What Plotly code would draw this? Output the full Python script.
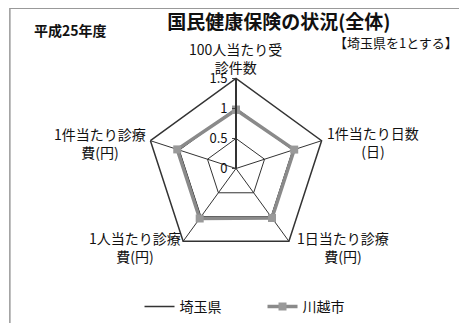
import plotly.graph_objects as go

categories = ["100人当たり受<br>診件数", "1件当たり日数<br>(日)", "1日当たり診療<br>費(円)",
              "1人当たり診療<br>費(円)", "1件当たり診療<br>費(円)"]
saitama = [1, 1, 1, 1, 1]
kawagoe = [0.98, 1.02, 1.02, 1.03, 1.03]

font = "Noto Sans CJK JP"

# label positions around the pentagon (paper coords), same order as categories
label_pos = [(0.488, 0.845), (0.782, 0.585), (0.717, 0.26), (0.272, 0.26), (0.197, 0.582)]

fig = go.Figure()
fig.add_trace(go.Scatterpolar(
    r=saitama + saitama[:1], theta=categories + categories[:1],
    name="埼玉県", mode="lines",
    line=dict(color="#333333", width=1.5)
))
fig.add_trace(go.Scatterpolar(
    r=kawagoe + kawagoe[:1], theta=categories + categories[:1],
    name="川越市", mode="lines+markers",
    line=dict(color="#8a8a8a", width=3.5),
    marker=dict(symbol="square", size=8, color="#999999")
))

annotations = [
    dict(text="<b>平成25年度</b>", x=0.051, y=0.932, xanchor="left", font=dict(size=14)),
    dict(text="【埼玉県を1とする】", x=0.968, y=0.892, xanchor="right", font=dict(size=13)),
]
for name, (lx, ly) in zip(categories, label_pos):
    annotations.append(dict(text=name, x=lx, y=ly, xanchor="center", align="center",
                            font=dict(size=14)))
for a in annotations:
    a.update(xref="paper", yref="paper", yanchor="middle", showarrow=False)

fig.update_layout(
    width=467, height=323,
    margin=dict(l=0, r=0, t=0, b=0),
    paper_bgcolor="white",
    font=dict(family=font, size=12, color="#111111"),
    polar=dict(
        domain=dict(x=[0.2955, 0.681], y=[0.2245, 0.7817]),
        bgcolor="white",
        gridshape="linear",
        angularaxis=dict(direction="clockwise", rotation=90,
                         linecolor="#333333", linewidth=1.5,
                         gridcolor="#333333", gridwidth=1,
                         showticklabels=False, ticks=""),
        radialaxis=dict(range=[0, 1.5], tickvals=[0, 0.5, 1, 1.5],
                        ticktext=["0", "0.5", "1", "1.5"],
                        angle=90, tickangle=90, side="counterclockwise",
                        showline=True,
                        linecolor="#333333", linewidth=2,
                        gridcolor="#333333", gridwidth=1,
                        ticks="outside", ticklen=3,
                        tickfont=dict(size=13, family=font))
    ),
    showlegend=True,
    legend=dict(orientation="h", x=0.545, xanchor="center", y=0.075, yanchor="middle",
                entrywidth=78, entrywidthmode="pixels",
                font=dict(size=14, family=font), bgcolor="rgba(0,0,0,0)"),
    title=dict(text="<b>国民健康保険の状況(全体)</b>", x=0.58, xanchor="center",
               y=0.957, yanchor="middle", font=dict(size=19, family=font)),
    annotations=annotations,
    shapes=[dict(type="rect", xref="paper", yref="paper", x0=0.004, y0=0.0, x1=0.981, y1=0.999,
                 line=dict(color="#999999", width=1.5))]
)

fig.write_html("out.html")
